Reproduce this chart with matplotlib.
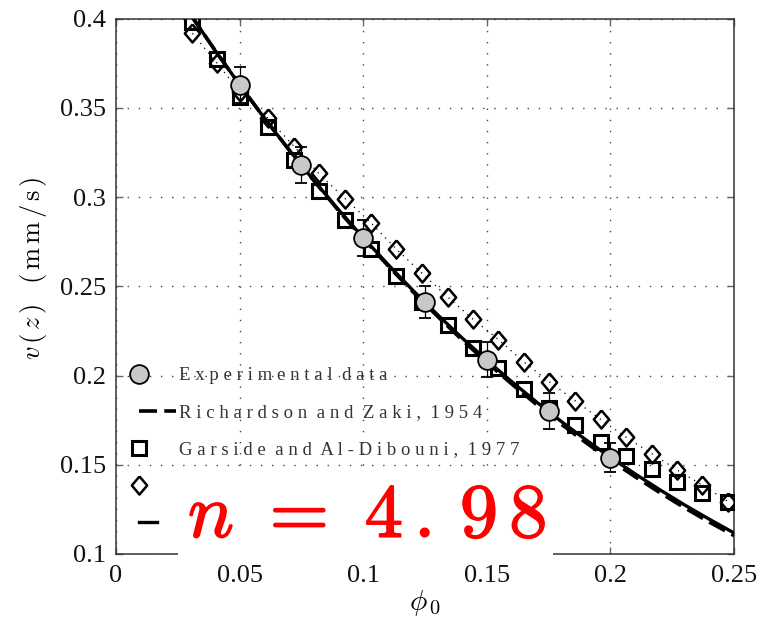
import matplotlib
matplotlib.use("Agg")
import matplotlib.pyplot as plt
from matplotlib.lines import Line2D
from matplotlib.legend_handler import HandlerLine2D, HandlerLine2DCompound
from matplotlib.patches import Rectangle
import matplotlib.patheffects as pe

# ---------------- data ----------------
phi_exp = [0.05, 0.075, 0.10, 0.125, 0.15, 0.175, 0.20]
v_exp = [0.363, 0.318, 0.277, 0.241, 0.209, 0.180, 0.154]
v_err = [0.010, 0.010, 0.010, 0.009, 0.010, 0.010, 0.008]

phi_curve = [0.03, 0.04, 0.05, 0.06, 0.07, 0.08, 0.09, 0.10, 0.11, 0.12, 0.13,
             0.14, 0.15, 0.16, 0.17, 0.18, 0.19, 0.20, 0.21, 0.22, 0.23, 0.24, 0.25]
v_model = [0.4026, 0.3824, 0.3630, 0.3443, 0.3265, 0.3094, 0.2930, 0.2773, 0.2623,
           0.2479, 0.2342, 0.2211, 0.2086, 0.1967, 0.1853, 0.1744, 0.1641, 0.1542,
           0.1449, 0.1360, 0.1275, 0.1195, 0.1118]
v_rz = [0.4026, 0.3824, 0.3630, 0.3443, 0.3265, 0.3093, 0.2925, 0.2767, 0.2616,
        0.2471, 0.2333, 0.2200, 0.2074, 0.1954, 0.1839, 0.1729, 0.1625, 0.1526,
        0.1433, 0.1344, 0.1259, 0.1179, 0.1103]

phi_corr = [0.0309, 0.0409, 0.0502, 0.0615, 0.0721, 0.0820, 0.0928, 0.1032, 0.1133,
            0.1238, 0.1342, 0.1443, 0.1547, 0.1649, 0.1753, 0.1858, 0.1961, 0.2065,
            0.2167, 0.2271, 0.2372, 0.2477]
v_garside = [0.398, 0.3772, 0.3563, 0.3395, 0.321, 0.3037, 0.2872, 0.271, 0.256,
             0.2415, 0.2286, 0.2156, 0.204, 0.1923, 0.182, 0.1723, 0.1629, 0.1549,
             0.1474, 0.1405, 0.134, 0.1293]
v_diamond = [0.3918, 0.375, 0.359, 0.3442, 0.3283, 0.3133, 0.299, 0.2855, 0.271,
             0.2573, 0.244, 0.2317, 0.2202, 0.2077, 0.1965, 0.1859, 0.1754, 0.1653,
             0.1563, 0.147, 0.1386, 0.1293]

x_ticks = [0, 0.05, 0.10, 0.15, 0.20, 0.25]
x_ticklabels = ["0", "0.05", "0.1", "0.15", "0.2", "0.25"]
y_ticks = [0.10, 0.15, 0.20, 0.25, 0.30, 0.35, 0.40]
y_ticklabels = ["0.1", "0.15", "0.2", "0.25", "0.3", "0.35", "0.4"]

labels = ["E x p e r i m e n t a l  d a t a",
          "R i c h a r d s o n  a n d  Z a k i ,  1 9 5 4",
          "G a r s i d e  a n d  A l - D i b o u n i ,  1 9 7 7",
          " ", " "]

# ---------------- figure ----------------
plt.rcParams['mathtext.fontset'] = 'cm'
W, H = 773, 623
fig = plt.figure(figsize=(W / 100, H / 100), dpi=100)
ax = fig.add_axes([116 / W, 1 - 554 / H, (734 - 116) / W, (554 - 18.7) / H])

diamond = [(0, 1), (0.85, 0), (0, -1), (-0.85, 0), (0, 1)]

h_dia, = ax.plot(phi_corr, v_diamond, color='black', lw=0.9, ls=(0, (1, 4)),
                 marker=diamond, ms=13, mfc='none', mec='black', mew=1.8, zorder=3)
h_sq, = ax.plot(phi_corr, v_garside, ls='none', marker='s', ms=9.5, mfc='none',
                mec='black', mew=2.2, zorder=3)
h_rz, = ax.plot(phi_curve, v_rz, color='black', lw=2.6, ls=(0, (5, 2)), zorder=4)
h_model, = ax.plot(phi_curve, v_model, color='black', lw=2.4, ls='-', zorder=4)
eb = ax.errorbar(phi_exp, v_exp, yerr=v_err, fmt='o', ms=13.5, mfc='#c8c8c8',
                 mec='black', mew=1.3, ecolor='black', elinewidth=0.9, capsize=4.5,
                 capthick=0.9, zorder=5)

ax.set_xlim(0, 0.25)
ax.set_ylim(0.1, 0.4)
ax.set_xticks(x_ticks)
ax.set_xticklabels(x_ticklabels)
ax.set_yticks(y_ticks)
ax.set_yticklabels(y_ticklabels)
ax.tick_params(direction='in', length=5, width=1.0, color='#666666',
               top=True, right=True, labelsize=19, pad=7)
for lab in ax.get_xticklabels() + ax.get_yticklabels():
    lab.set_fontfamily('Liberation Serif')
    lab.set_color('#111111')
ax.tick_params(axis='x', pad=8)
ax.grid(True, color='#444444', lw=1.0, ls=(0, (1, 7)))
for s in ax.spines.values():
    s.set_color('#333333')
    s.set_linewidth(1.1)

ax.set_xlabel(r"$\phi_{\,0}$", fontsize=21, labelpad=1)
ax.set_ylabel(r"$v\,(\,z\,)\;\;\;(\,\mathrm{m\,m\,/\,s}\,)$", fontsize=19)
ax.yaxis.set_label_coords(-0.108, 0.533)


class LeftMarker(HandlerLine2DCompound):
    def get_xdata(self, legend, xdescent, ydescent, width, height, fontsize):
        return [-xdescent, -xdescent + width], [-xdescent]


class ShortLine(HandlerLine2D):
    def get_xdata(self, legend, xdescent, ydescent, width, height, fontsize):
        return [-xdescent, -xdescent + 0.5 * width], [-xdescent]


leg_circle = Line2D([], [], ls='none', marker='o', ms=13.5, mfc='#c8c8c8', mec='black', mew=1.3)
leg_rz = Line2D([], [], color='black', lw=2.6, ls=(0, (5, 2)))
leg_sq = Line2D([], [], ls='none', marker='s', ms=9.5, mfc='none', mec='black', mew=2.2)
leg_dia = Line2D([], [], ls='none', marker=diamond, ms=13, mfc='none', mec='black', mew=1.8)
leg_model = Line2D([], [], color='black', lw=2.4)

leg = fig.legend([leg_circle, leg_rz, leg_sq, leg_dia, leg_model], labels,
                 loc='upper left', bbox_to_anchor=(139 / W, 1 - 367 / H),
                 frameon=False, borderpad=0, borderaxespad=0,
                 handlelength=1.95, handletextpad=0.2, labelspacing=1.06,
                 prop={'family': 'Liberation Serif', 'size': 13.5},
                 handler_map={leg_circle: LeftMarker(), leg_rz: HandlerLine2D(),
                              leg_sq: LeftMarker(), leg_dia: LeftMarker(),
                              leg_model: ShortLine()})
for t in leg.get_texts():
    t.set_color('#333333')

# white box with red annotation
fig.patches.append(Rectangle((178 / W, 1 - 558 / H), (553 - 178) / W, (558 - 467) / H,
                             transform=fig.transFigure, facecolor='white',
                             edgecolor='none', zorder=10))
fig.text(188 / W, 1 - 537 / H, r"$n\ =\ 4\,.\,9\,8$", color='red', fontsize=55,
         ha='left', va='baseline', zorder=11,
         path_effects=[pe.withStroke(linewidth=1.2, foreground='red')])

fig.savefig("out.png", dpi=100, facecolor='white')
